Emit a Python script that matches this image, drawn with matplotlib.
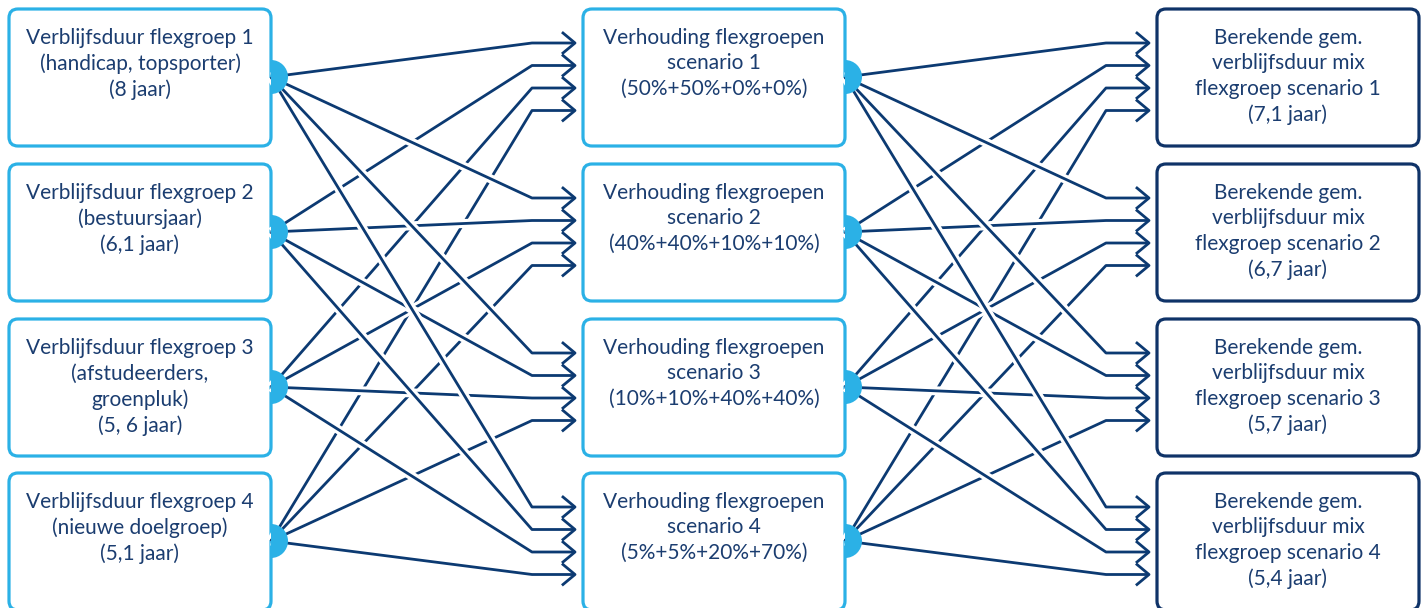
import numpy as np
import matplotlib.pyplot as plt
from matplotlib.patches import FancyBboxPatch, Wedge

# box texts per column
groepen = ["Verblijfsduur flexgroep 1\n(handicap, topsporter)\n(8 jaar)",
           "Verblijfsduur flexgroep 2\n(bestuursjaar)\n(6,1 jaar)",
           "Verblijfsduur flexgroep 3\n(afstudeerders,\ngroenpluk)\n(5, 6 jaar)",
           "Verblijfsduur flexgroep 4\n(nieuwe doelgroep)\n(5,1 jaar)"]
scenarios = ["Verhouding flexgroepen\nscenario 1\n(50%+50%+0%+0%)",
             "Verhouding flexgroepen\nscenario 2\n(40%+40%+10%+10%)",
             "Verhouding flexgroepen\nscenario 3\n(10%+10%+40%+40%)",
             "Verhouding flexgroepen\nscenario 4\n(5%+5%+20%+70%)"]
uitkomsten = ["Berekende gem.\nverblijfsduur mix\nflexgroep scenario 1\n(7,1 jaar)",
              "Berekende gem.\nverblijfsduur mix\nflexgroep scenario 2\n(6,7 jaar)",
              "Berekende gem.\nverblijfsduur mix\nflexgroep scenario 3\n(5,7 jaar)",
              "Berekende gem.\nverblijfsduur mix\nflexgroep scenario 4\n(5,4 jaar)"]

LIGHT = "#2bb1e6"
NAVY = "#0c3a72"
DARK = "#0f3368"
TXT = "#1b3d70"

W, H = 1426, 608
fig = plt.figure(figsize=(W / 100, H / 100), dpi=100)
ax = fig.add_axes([0, 0, 1, 1])
ax.set_xlim(0, W)
ax.set_ylim(H, 0)
ax.axis("off")

cols_x = [9, 583, 1157]
box_w = 262
box_h = 137
tops = [9, 164, 319, 473]
arrow_off = [34, 56.5, 79, 101.5]


def draw_box(x, y, text, edge):
    p = FancyBboxPatch((x, y), box_w, box_h, boxstyle="round,pad=0,rounding_size=9",
                       fc="white", ec=edge, lw=2.3, zorder=2)
    ax.add_patch(p)
    ax.text(x + box_w / 2, y + 19, text, ha="center", va="top", color=TXT,
            fontsize=15, family=["Lato", "DejaVu Sans"],
            linespacing=1.34, zorder=3)


for col, texts, edge in [(0, groepen, LIGHT), (1, scenarios, LIGHT), (2, uitkomsten, DARK)]:
    for i, t in enumerate(texts):
        draw_box(cols_x[col], tops[i], t, edge)

# connections: every box in column c goes to every box in column c+1
for c in range(2):
    sx = cols_x[c] + box_w
    tip = cols_x[c + 1] - 8
    hstart = tip - 43
    for i in reversed(range(4)):
        cy = tops[i] + 68
        paths = []
        for j in range(4):
            ya = tops[j] + arrow_off[i]
            paths.append(([sx, hstart, tip], [cy, ya, ya]))
        for xs, ys in paths:
            ax.plot(xs, ys, color="white", lw=6.5, solid_capstyle="butt", zorder=4)
        for xs, ys in paths:
            ax.plot(xs, ys, color=NAVY, lw=2, solid_capstyle="butt", zorder=4)
    for i in range(4):
        for j in range(4):
            ya = tops[j] + arrow_off[i]
            ax.plot([tip - 12, tip, tip - 12], [ya - 10, ya, ya + 10], color=NAVY,
                    lw=2, zorder=5)
    for i in range(4):
        ax.add_patch(Wedge((sx, tops[i] + 68), 17, -90, 90, fc=LIGHT, ec="none", zorder=6))

fig.savefig("out.png", dpi=100)
